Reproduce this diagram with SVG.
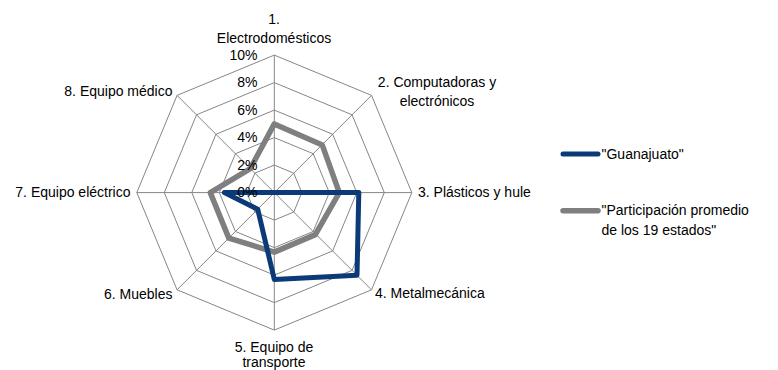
<svg xmlns="http://www.w3.org/2000/svg" width="778" height="370" viewBox="0 0 778 370">
<style>
text{font-family:"Liberation Sans",Arial,sans-serif;font-size:14px;fill:#000}
.grid{fill:none;stroke:#868686;stroke-width:1}
.s1{fill:none;stroke:#0b3a78;stroke-width:5;stroke-linejoin:round;stroke-linecap:round}
.s2{fill:none;stroke:#7f7f7f;stroke-width:5.5;stroke-linejoin:round;stroke-linecap:round}
.mid{text-anchor:middle}
.end{text-anchor:end}
</style>
<rect width="778" height="370" fill="#fff"/>
<g id="grid" transform="translate(274.3,192.6)">
<polygon class="grid" points="0,-27.5 19.445,-19.445 27.5,0 19.445,19.445 0,27.5 -19.445,19.445 -27.5,0 -19.445,-19.445"/>
<polygon class="grid" points="0,-55 38.891,-38.891 55,0 38.891,38.891 0,55 -38.891,38.891 -55,0 -38.891,-38.891"/>
<polygon class="grid" points="0,-82.5 58.336,-58.336 82.5,0 58.336,58.336 0,82.5 -58.336,58.336 -82.5,0 -58.336,-58.336"/>
<polygon class="grid" points="0,-110 77.782,-77.782 110,0 77.782,77.782 0,110 -77.782,77.782 -110,0 -77.782,-77.782"/>
<polygon class="grid" points="0,-137.5 97.227,-97.227 137.5,0 97.227,97.227 0,137.5 -97.227,97.227 -137.5,0 -97.227,-97.227"/>
<path class="grid" d="M0,0V-137.5M0,0L97.227,-97.227M0,0H137.5M0,0L97.227,97.227M0,0V137.5M0,0L-97.227,97.227M0,0H-137.5M0,0L-97.227,-97.227"/>
</g>
<g id="series" transform="translate(274.3,192.6)">
<polygon id="promedio" class="s2" points="0,-68.7 48,-47.5 65,0 41,42 0,59.5 -45.5,45.5 -64,0 -24,-24"/>
<polygon id="guanajuato" class="s1" points="0,0 0,0 84.5,0 82.7,82.7 0,86.8 -16.6,16.6 -50,0 0,0"/>
</g>
<g id="scale" class="end">
<text x="257.5" y="197.1" class="end">0%</text>
<text x="257.5" y="169.6" class="end">2%</text>
<text x="257.5" y="142.1" class="end">4%</text>
<text x="257.5" y="114.6" class="end">6%</text>
<text x="257.5" y="87.1" class="end">8%</text>
<text x="257.5" y="59.6" class="end">10%</text>
</g>
<g id="axis1"><text x="274" y="24" class="mid">1.</text><text x="274" y="43" class="mid">Electrodomésticos</text></g>
<g id="axis2"><text x="437" y="87" class="mid">2. Computadoras y</text><text x="437" y="106" class="mid">electrónicos</text></g>
<g id="axis3"><text x="418" y="197">3. Plásticos y hule</text></g>
<g id="axis4"><text x="375" y="298">4. Metalmecánica</text></g>
<g id="axis5"><text x="274" y="352" class="mid">5. Equipo de</text><text x="274" y="367" class="mid">transporte</text></g>
<g id="axis6"><text x="172.5" y="299" class="end">6. Muebles</text></g>
<g id="axis7"><text x="130.5" y="197" class="end">7. Equipo eléctrico</text></g>
<g id="axis8"><text x="172.5" y="96" class="end">8. Equipo médico</text></g>
<g id="legend">
<line x1="563" y1="154" x2="598" y2="154" stroke="#0b3a78" stroke-width="5" stroke-linecap="round"/>
<text x="601.5" y="158.5">"Guanajuato"</text>
<line x1="563" y1="210.7" x2="598" y2="210.7" stroke="#7f7f7f" stroke-width="5.5" stroke-linecap="round"/>
<text x="601.5" y="215">"Participación promedio</text>
<text x="601.5" y="235">de los 19 estados"</text>
</g>
</svg>
